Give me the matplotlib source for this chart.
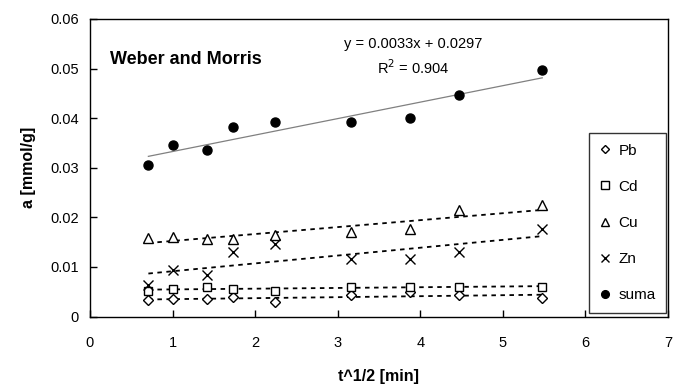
import numpy as np
import matplotlib
matplotlib.use("Agg")
import matplotlib.pyplot as plt

plt.rcParams['font.family'] = ['Liberation Sans', 'DejaVu Sans']

x = [0.707, 1.0, 1.414, 1.732, 2.236, 3.162, 3.873, 4.472, 5.477]
pb = [0.0033, 0.0035, 0.0035, 0.0039, 0.0030, 0.0043, 0.0050, 0.0043, 0.0037]
cd = [0.0052, 0.0055, 0.0060, 0.0055, 0.0052, 0.0060, 0.0060, 0.0060, 0.0060]
cu = [0.0158, 0.0160, 0.0157, 0.0157, 0.0165, 0.0171, 0.0176, 0.0214, 0.0224]
zn = [0.0064, 0.0094, 0.0084, 0.0131, 0.0147, 0.0116, 0.0116, 0.0131, 0.0177]
suma = [0.0305, 0.0345, 0.0335, 0.0382, 0.0392, 0.0392, 0.0400, 0.0447, 0.0497]

labels = ['Pb', 'Cd', 'Cu', 'Zn', 'suma']
eq_text = 'y = 0.0033x + 0.0297'
r2_text = 'R$^2$ = 0.904'
xticks = [0, 1, 2, 3, 4, 5, 6, 7]
yticks = [0, 0.01, 0.02, 0.03, 0.04, 0.05, 0.06]
ytick_labels = ['0', '0.01', '0.02', '0.03', '0.04', '0.05', '0.06']

fig = plt.figure(figsize=(6.73, 3.87), dpi=100)
ax = fig.add_axes([90/673, 1 - 316.5/387, 578/673, 297.5/387])

xa = np.array(x)
xl = np.array([xa.min(), xa.max()])
for ys in [pb, cd, cu, zn]:
    k, b = np.polyfit(xa, np.array(ys), 1)
    ax.plot(xl, k * xl + b, color='black', lw=1.3, ls=(0, (2.5, 2.5)), zorder=2)
k, b = np.polyfit(xa, np.array(suma), 1)
ax.plot(xl, k * xl + b, color='#808080', lw=0.9, zorder=2)

ms_open = 6
ax.plot(x, pb, ls='none', marker='D', ms=5, mfc='white', mec='black', mew=1.0, label=labels[0], zorder=3)
ax.plot(x, cd, ls='none', marker='s', ms=ms_open, mfc='white', mec='black', mew=1.0, label=labels[1], zorder=3)
ax.plot(x, cu, ls='none', marker='^', ms=ms_open + 1, mfc='white', mec='black', mew=1.0, label=labels[2], zorder=3)
ax.plot(x, zn, ls='none', marker='x', ms=ms_open + 1, mec='black', mew=1.0, label=labels[3], zorder=3)
ax.plot(x, suma, ls='none', marker='o', ms=6.5, mfc='black', mec='black', label=labels[4], zorder=3)

ax.set_xlim(0, 7)
ax.set_ylim(0, 0.06)
ax.set_xticks(xticks)
ax.set_xticklabels([str(t) for t in xticks])
ax.set_yticks(yticks)
ax.set_yticklabels(ytick_labels)
ax.tick_params(direction='in', length=5, width=1, labelsize=10.5, colors='black', pad=8)
ax.tick_params(axis='x', pad=14)
for s in ax.spines.values():
    s.set_linewidth(1.0)
    s.set_color('black')

ax.set_xlabel('t^1/2 [min]', fontsize=11.5, fontweight='bold', labelpad=14)
ax.set_ylabel('a [mmol/g]', fontsize=11.5, fontweight='bold', labelpad=10)

ax.text(0.035, 0.865, 'Weber and Morris', transform=ax.transAxes, fontsize=13,
        fontweight='bold', ha='left', va='center')
ax.text(0.56, 0.915, eq_text, transform=ax.transAxes, fontsize=10.5, ha='center', va='center')
ax.text(0.56, 0.835, r2_text, transform=ax.transAxes, fontsize=10.5, ha='center', va='center')

leg = ax.legend(loc='lower right', bbox_to_anchor=(0.997, 0.012), frameon=True, fancybox=False,
                edgecolor='black', fontsize=11, handlelength=0.7, handletextpad=0.5,
                labelspacing=1.45, borderpad=0.7, borderaxespad=0, markerscale=0.85)
leg.get_frame().set_linewidth(1.0)
leg.set_zorder(5)

fig.savefig('out.png', dpi=100)
